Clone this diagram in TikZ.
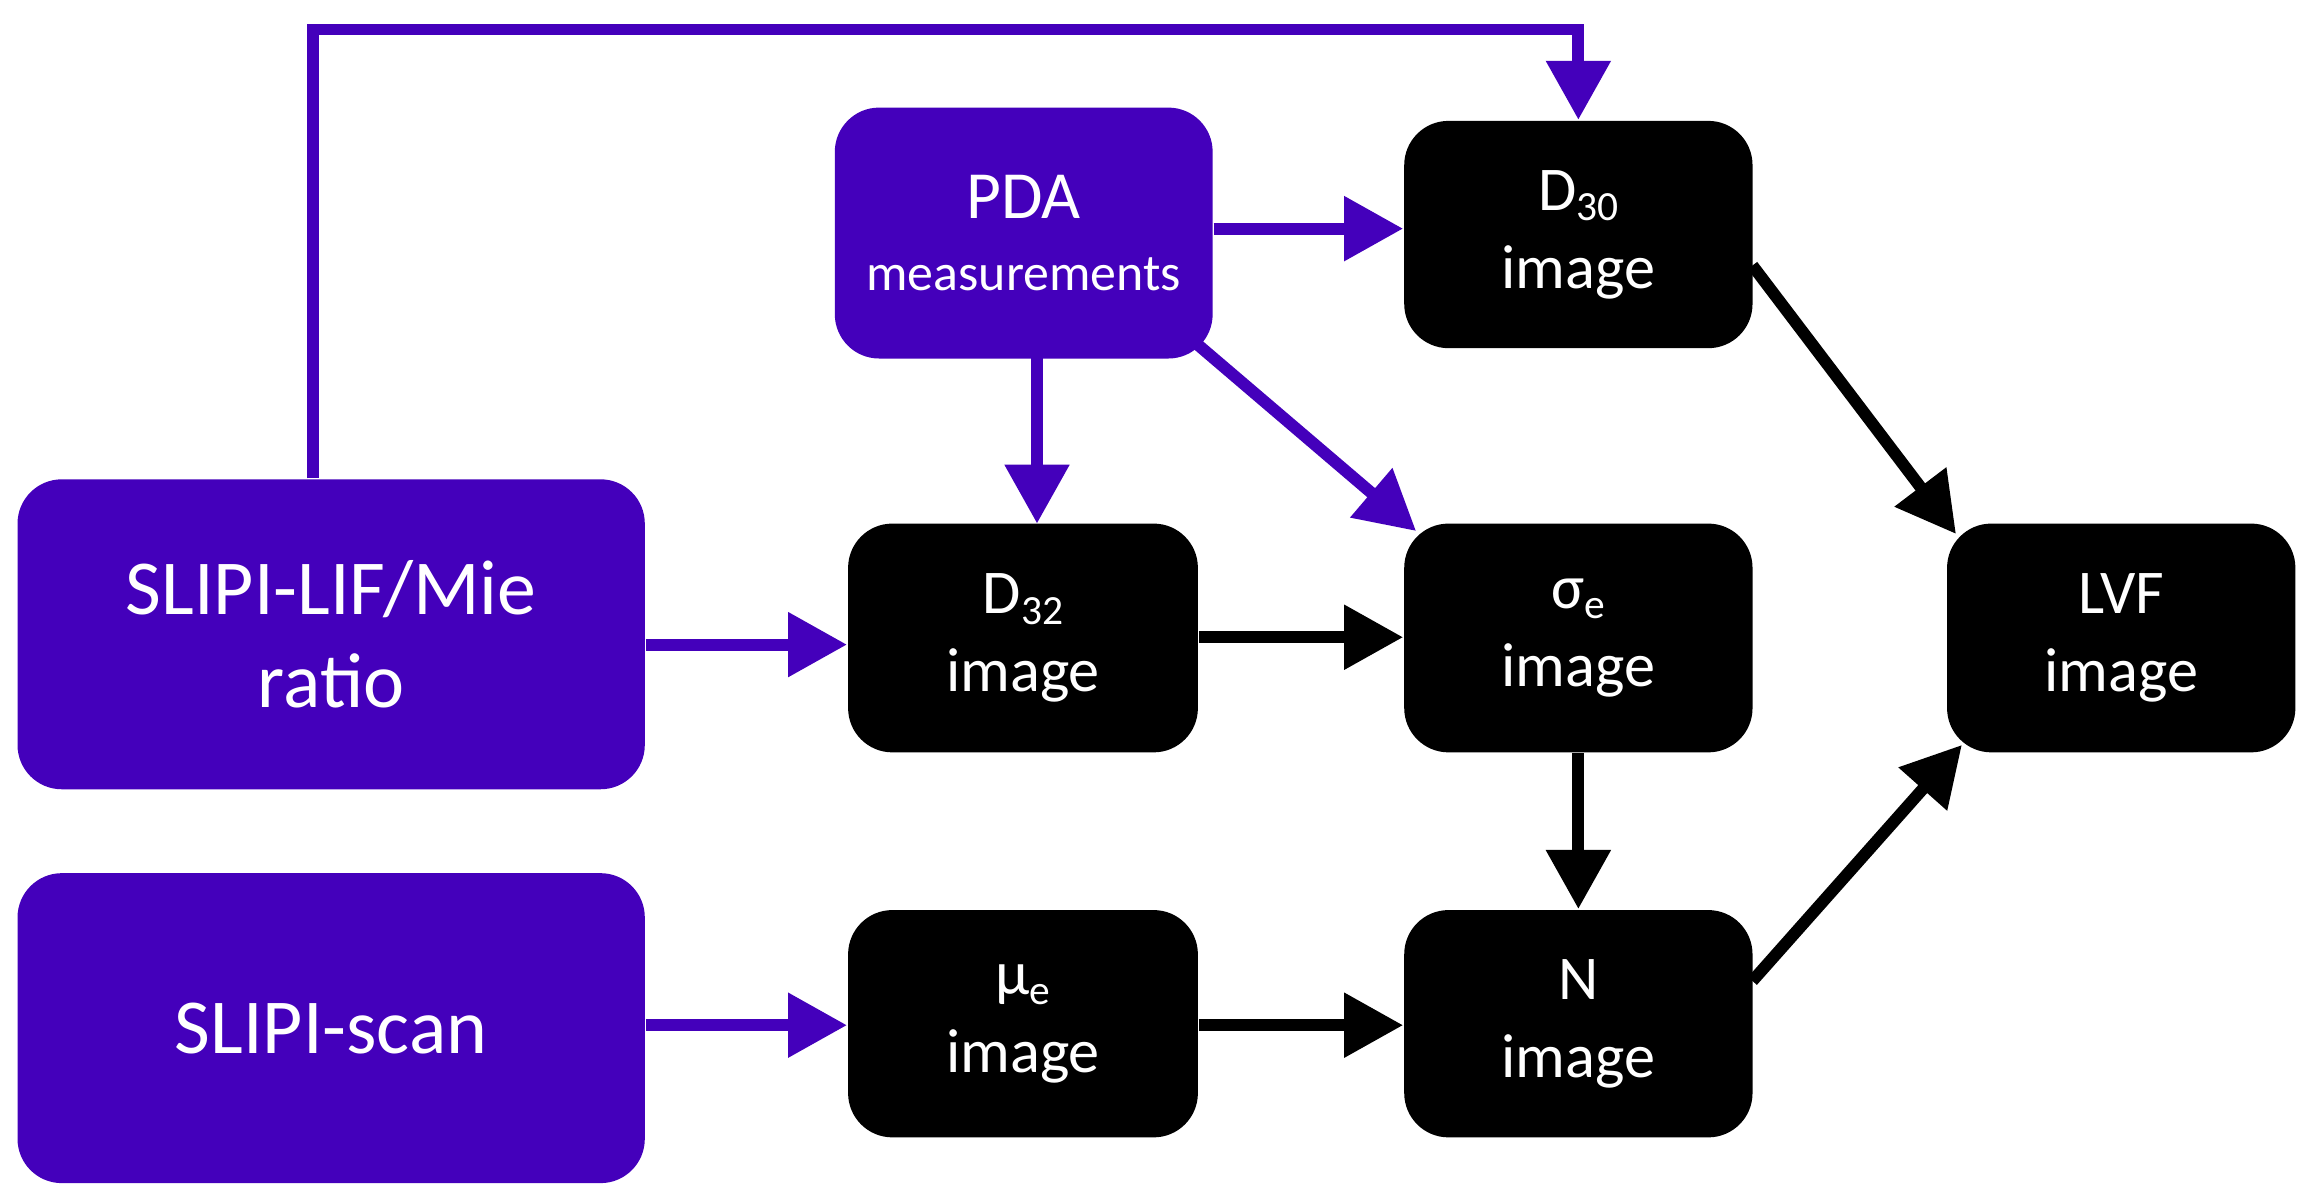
\documentclass[tikz,border=0pt]{standalone}
\usepackage{fontspec}
\setmainfont{Carlito}
\usetikzlibrary{arrows.meta}
\definecolor{pur}{HTML}{4400BB}
\newcommand{\sbs}[1]{\raisebox{-0.35ex}{\fontsize{8}{9}\selectfont #1}}
\begin{document}
\begin{tikzpicture}[x=0.01cm,y=-0.01cm,
  box/.style={draw=none,rounded corners=0.3cm,text=white,align=center,inner sep=0},
  pb/.style={box,fill=pur},
  bb/.style={box,fill=black},
  ar/.style={line width=2.3pt,-{Triangle[length=0.4cm,width=0.42cm]}},
  pa/.style={ar,draw=pur},
  ba/.style={ar,draw=black}]
\useasboundingbox (0,0) rectangle (1568,816);
\fill[white] (0,0) rectangle (1568,816);
\newcommand{\bx}[6]{\node[#1,minimum width=#4*0.01cm,minimum height=#5*0.01cm] (#6) at (#2,#3) {#6txt};}
\node[pb,minimum width=4.25cm,minimum height=2.1cm,font=\fontsize{15}{18}\selectfont] (lif) at (224.5,430) {SLIPI-LIF/Mie\\ratio};
\node[pb,minimum width=4.25cm,minimum height=2.1cm,font=\fontsize{15}{18}\selectfont] (scan) at (224.5,697) {SLIPI-scan};
\node[pb,minimum width=2.56cm,minimum height=1.7cm,align=center] (pda) at (694,158) {{\fontsize{13}{15}\selectfont PDA}\\[2pt]{\fontsize{10}{12}\selectfont measurements}};
\node[bb,minimum width=2.36cm,minimum height=1.54cm,font=\fontsize{12}{15}\selectfont] (d30) at (1070,159) {D\sbs{30}\\image};
\node[bb,minimum width=2.37cm,minimum height=1.55cm,font=\fontsize{12}{15}\selectfont] (d32) at (693.5,432.5) {D\sbs{32}\\image};
\node[bb,minimum width=2.36cm,minimum height=1.55cm,font=\fontsize{12}{15}\selectfont] (sig) at (1070,432.5) {σ\sbs{e}\\image};
\node[bb,minimum width=2.36cm,minimum height=1.55cm,font=\fontsize{12}{15}\selectfont] (lvf) at (1438,432.5) {LVF\\image};
\node[bb,minimum width=2.37cm,minimum height=1.54cm,font=\fontsize{12}{15}\selectfont] (mu) at (693.5,694) {μ\sbs{e}\\image};
\node[bb,minimum width=2.36cm,minimum height=1.54cm,font=\fontsize{12}{15}\selectfont] (n) at (1070,694) {N\\image};
\coordinate (c1) at (212,20);
\coordinate (c2) at (1070,20);
\draw[pa,line join=miter] (lif.north -| c1) -- (c1) -- (c2) -- (d30.north);
\draw[pa] (pda.east |- 0,155) -- (d30.west |- 0,155);
\draw[pa] (703,243) -- (703,355);
\draw[pa] (810,232) -- (960,360);
\draw[pa] (lif.east |- 0,437) -- (d32.west |- 0,437);
\draw[pa] (scan.east |- 0,695) -- (mu.west |- 0,695);
\draw[ba] (d32.east |- 0,432) -- (sig.west |- 0,432);
\draw[ba] (mu.east |- 0,695) -- (n.west |- 0,695);
\draw[ba] (sig.south) -- (n.north);
\draw[ba] (1188,180) -- (1326,362);
\draw[ba] (1188,665) -- (1330,505);
\end{tikzpicture}
\end{document}
